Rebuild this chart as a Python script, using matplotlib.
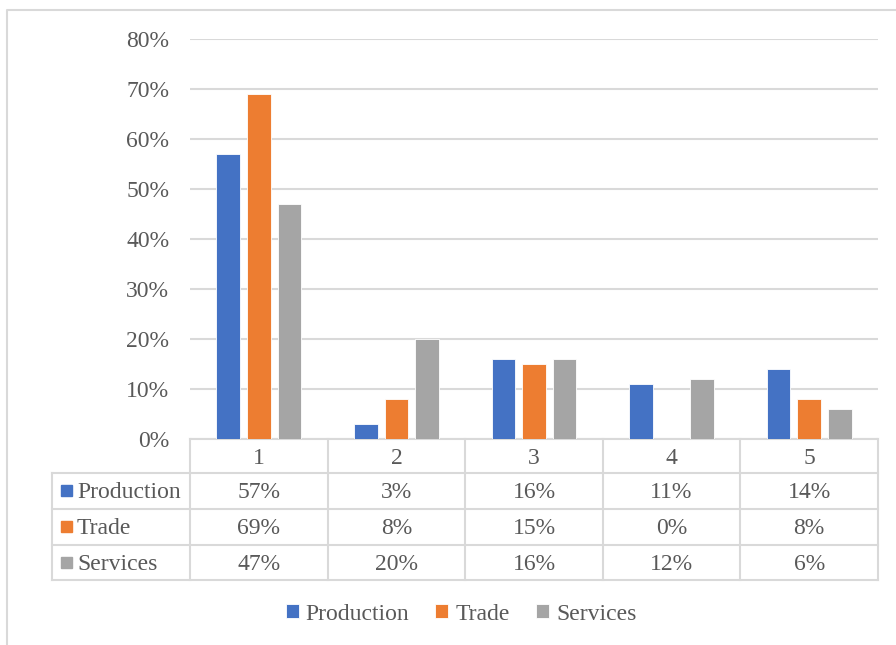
import numpy as np
import matplotlib.pyplot as plt
from matplotlib.patches import Rectangle

plt.rcParams['font.family'] = ['Liberation Serif', 'DejaVu Serif']

categories = ['1', '2', '3', '4', '5']
series = ['Production', 'Trade', 'Services']
production = [0.57, 0.03, 0.16, 0.11, 0.14]
trade = [0.69, 0.08, 0.15, 0.00, 0.08]
services = [0.47, 0.20, 0.16, 0.12, 0.06]
values = [production, trade, services]
colors = ['#4472C4', '#ED7D31', '#A5A5A5']
yticks = [0, 0.1, 0.2, 0.3, 0.4, 0.5, 0.6, 0.7, 0.8]

text_color = '#595959'
line_color = '#D9D9D9'
fs = 17

W, H = 896, 645
fig = plt.figure(figsize=(W / 100, H / 100), dpi=100)

# overlay in pixel units for the frame, table and legend
ov = fig.add_axes([0, 0, 1, 1])
ov.set_xlim(0, W)
ov.set_ylim(H, 0)
ov.axis('off')

# chart area frame
ov.plot([7, 7, W], [H, 10, 10], color=line_color, lw=1.5)

# bar plot area
left, right, top, bottom = 190, 878, 39, 439
ax = fig.add_axes([left / W, 1 - bottom / H, (right - left) / W, (bottom - top) / H])
ax.set_zorder(2)
ax.patch.set_alpha(0)
x = np.arange(len(categories))
bw = 0.172
step = 0.222
for i, (name, vals) in enumerate(zip(series, values)):
    ax.bar(x + (i - 1) * step, vals, width=bw, color=colors[i],
           edgecolor='white', linewidth=0.6, label=name, zorder=3)
ax.set_xlim(-0.5, len(categories) - 0.5)
ax.set_ylim(0, 0.8)
ax.set_yticks(yticks)
ax.set_yticklabels([f'{int(round(t * 100))}%' for t in yticks], fontsize=fs, color=text_color)
ax.tick_params(axis='y', length=0, pad=15)
ax.set_xticks([])
ax.grid(axis='y', color=line_color, lw=1.5, zorder=0)
for s in ax.spines.values():
    s.set_visible(False)
for lab in ax.get_yticklabels():
    lab.set_verticalalignment('center_baseline')

# data table under the axis
col_edges = np.linspace(left, right, len(categories) + 1)
row_edges = [439, 472.5, 508.5, 544.5, 580]
label_left = 52
ov.plot([col_edges[0], col_edges[-1]], [row_edges[0], row_edges[0]], color=line_color, lw=1.5)
for yy in row_edges[1:]:
    ov.plot([label_left, col_edges[-1]], [yy, yy], color=line_color, lw=1.5)
for xx in col_edges:
    ov.plot([xx, xx], [row_edges[0], row_edges[-1]], color=line_color, lw=1.5)
ov.plot([label_left, label_left], [row_edges[1], row_edges[-1]], color=line_color, lw=1.5)

centers = (col_edges[:-1] + col_edges[1:]) / 2
hy = (row_edges[0] + row_edges[1]) / 2
for cx, c in zip(centers, categories):
    ov.text(cx, hy, c, ha='center', va='center_baseline', fontsize=fs, color=text_color)
for r, (name, vals) in enumerate(zip(series, values)):
    ry = (row_edges[r + 1] + row_edges[r + 2]) / 2
    ov.add_patch(Rectangle((61, ry - 5.5), 11, 11, color=colors[r]))
    ov.text(77, ry, name, ha='left', va='center_baseline', fontsize=fs, color=text_color)
    for cx, v in zip(centers, vals):
        ov.text(cx, ry, f'{int(round(v * 100))}%', ha='center', va='center_baseline',
                fontsize=fs, color=text_color)

# legend
leg = fig.legend(handles=ax.patches[::len(categories)], labels=series, loc='center',
                 bbox_to_anchor=(461 / W, 1 - 614 / H), ncol=3, frameon=False,
                 fontsize=fs, handlelength=0.55, handleheight=0.55, handletextpad=0.3,
                 columnspacing=1.1, labelcolor=text_color)

fig.savefig('out.png', dpi=100)
